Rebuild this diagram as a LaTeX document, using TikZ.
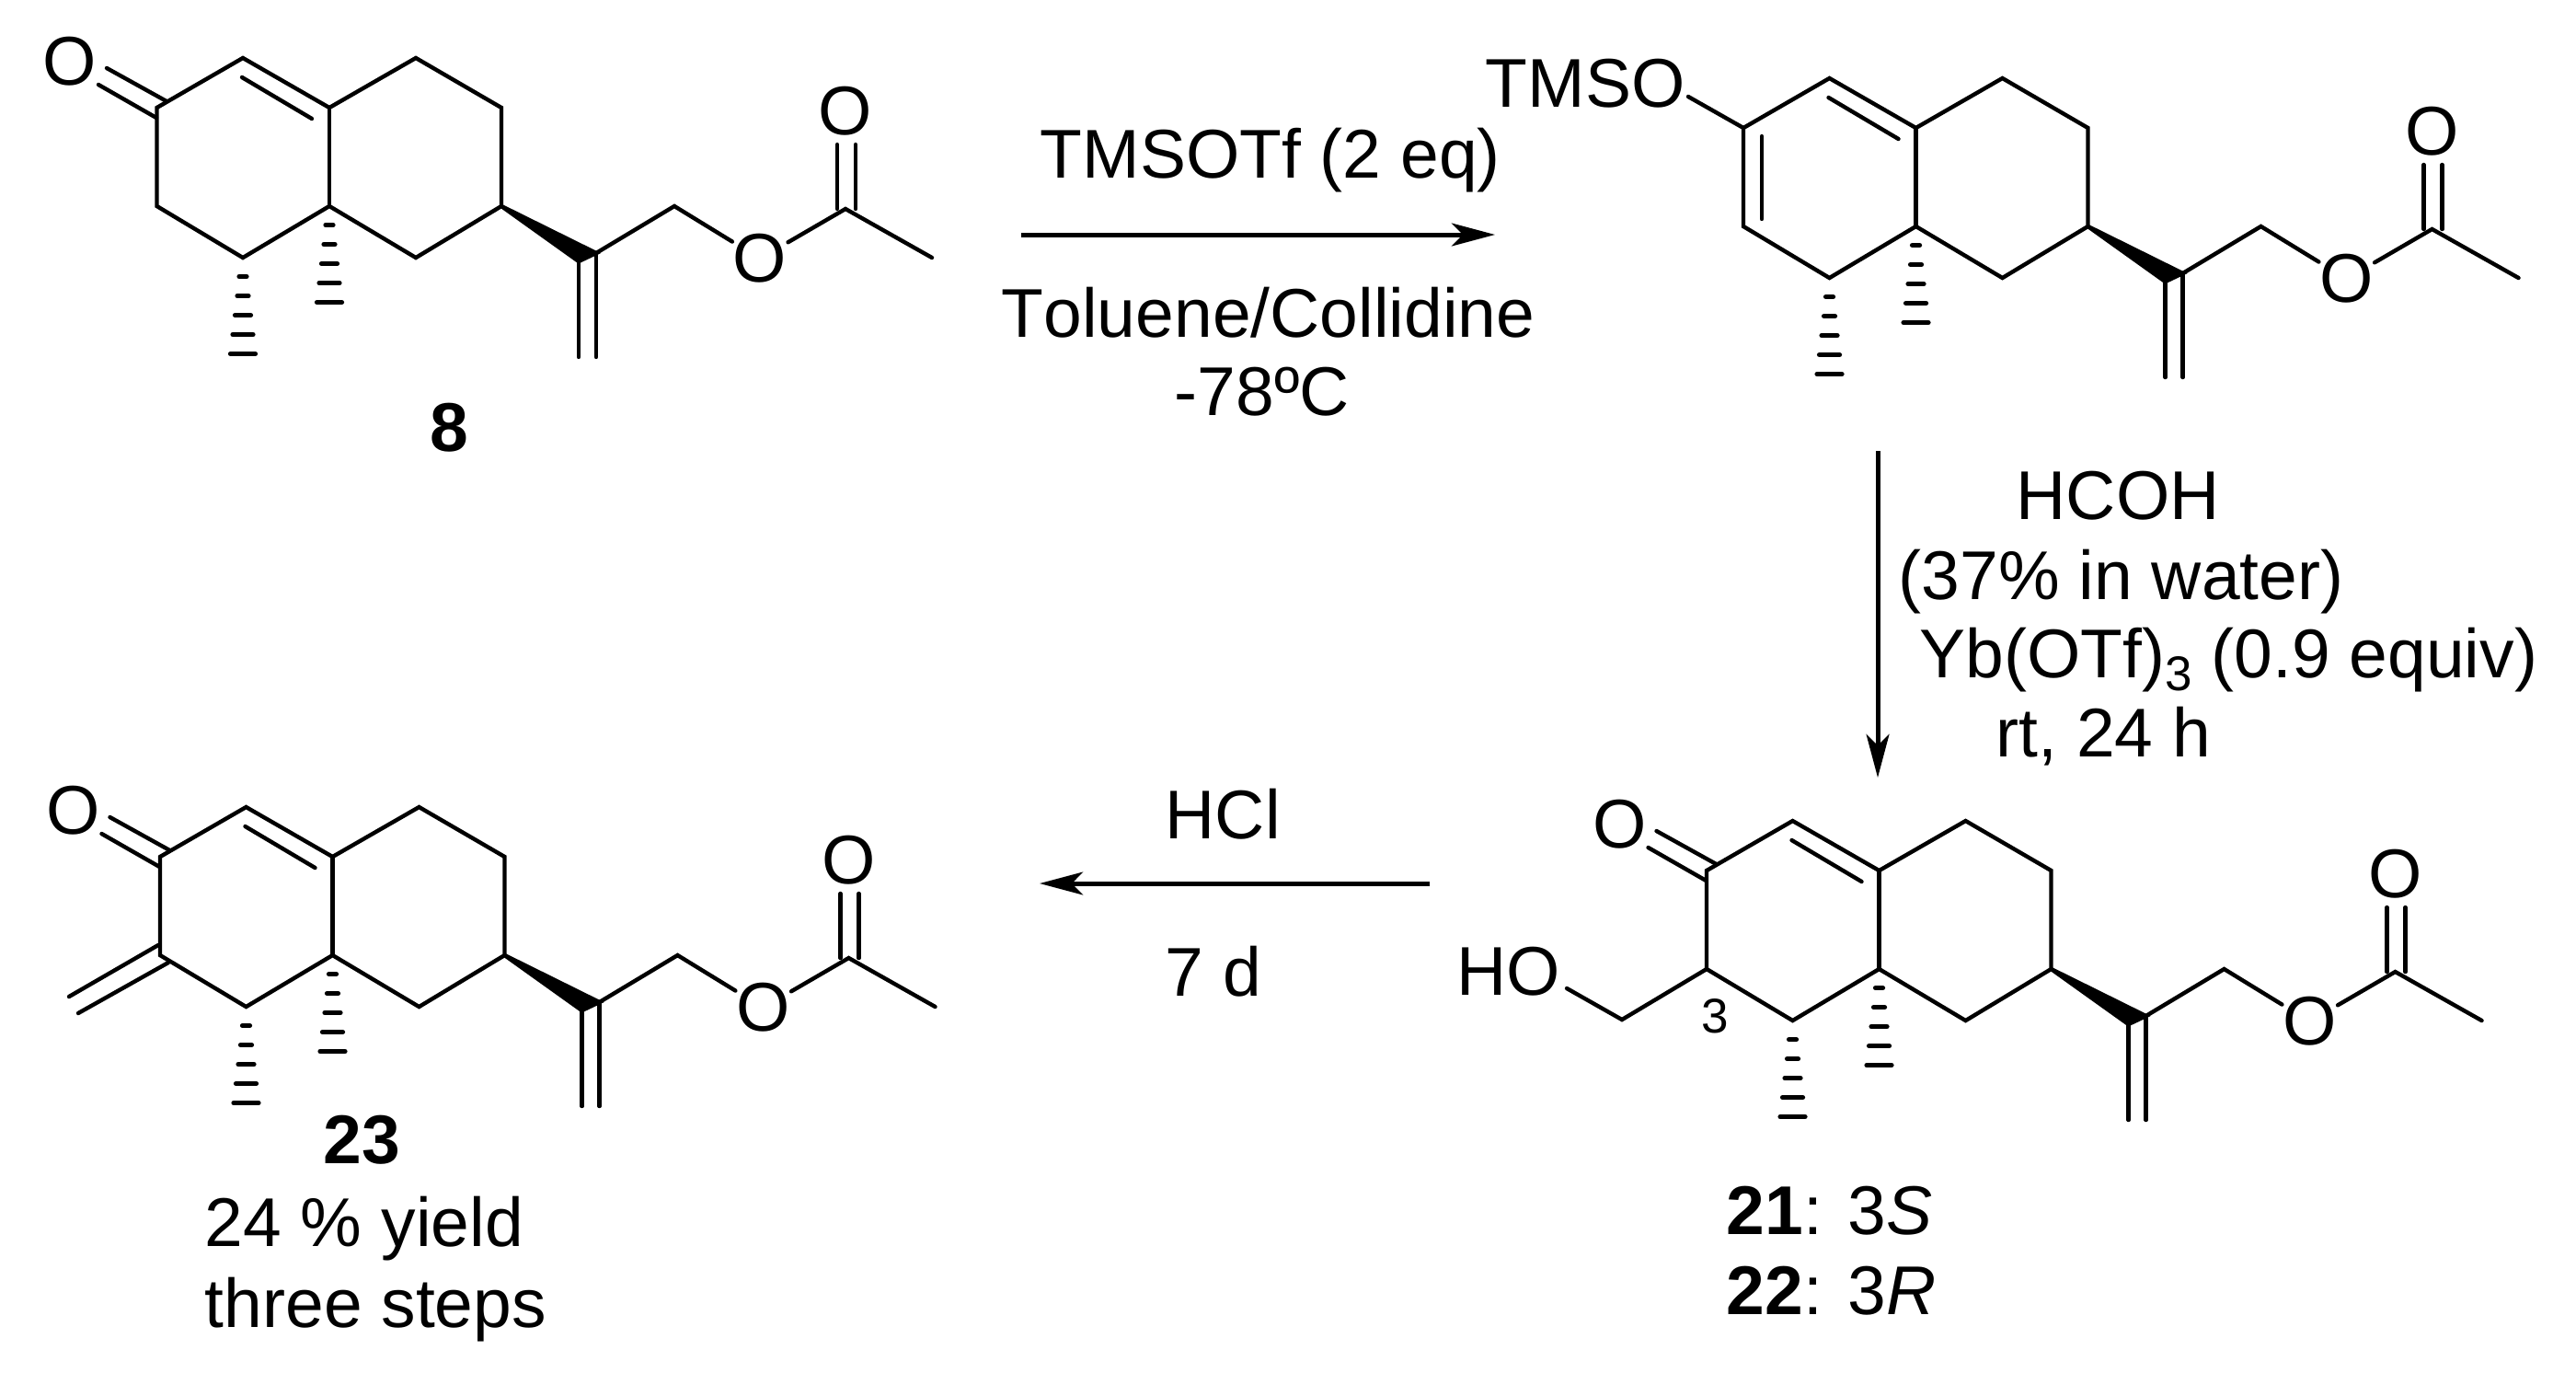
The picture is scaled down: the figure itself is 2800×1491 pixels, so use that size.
\documentclass[tikz,border=0pt]{standalone}
\usepackage{fontspec}
\setmainfont[Kerning=Off]{Liberation Sans}
\usetikzlibrary{arrows.meta}
\newcommand{\bigsize}{\fontsize{18.75pt}{22pt}\selectfont}
\newcommand{\smallsize}{\fontsize{13.25pt}{15pt}\selectfont}
\tikzset{
    %Define standard arrow tip
    >={Stealth[length=11.75pt,width=6.2pt,inset=3pt]},
    %Define style for bonds
    bond/.style={
	line width=1.1pt,
	line join=miter,
	line cap=round
    },
    hashbar/.style={
	line width=1.3pt,
	line cap=round
    },
    % Define arrow style
    pil/.style={
	->,
	line width=1.25pt
    },
    %Define style for texts
    atom/.style={
	circle,
	inner sep=-.85pt,
	font=\bigsize
    },
    lbl/.style={
	inner sep=0pt,
	anchor=base west,
	font=\bigsize
    },
    % five bars of a hashed methyl, widening downwards
    pics/hashed/.style={code={
	\foreach \k/\w in {0/4,1/6,2/8.5,3/11,4/13.5}
	\draw[hashbar] (-\w,{20.5+21*\k}) -- (\w,{20.5+21*\k});
    }},
    % what all four molecules have in common
    pics/skeleton/.style={code={
	\coordinate (-c1) at (264,63);
	\coordinate (-c2) at (170.5,117);
	\coordinate (-c3) at (170.5,224);
	\coordinate (-c4) at (264,280);
	\coordinate (-c4a) at (358,117);
	\coordinate (-c5) at (452,63);
	\coordinate (-c6) at (545,117);
	\coordinate (-c7) at (545,224);
	\coordinate (-c8) at (452,280);
	\coordinate (-c8a) at (358,224);
	\coordinate (-in1) at (263,84);
	\coordinate (-in2) at (339,129);
	\coordinate (-wa) at (629,284);
	\coordinate (-cs) at (648,275);
	\coordinate (-ene) at (629,388);
	\coordinate (-enf) at (648,388);
	\coordinate (-ch) at (733,224);
	\coordinate (-ac) at (919,227);
	\coordinate (-me) at (1013,280);
	\coordinate (-ka) at (910,227);
	\coordinate (-kb) at (930,227);
	\coordinate (-ta) at (910,157);
	\coordinate (-tb) at (930,157);
	\node[atom] (-oe) at (826,281) {O};
	\node[atom] (-oc) at (919,121) {O};
	\draw[bond] (-c3) -- (-c2) -- (-c1) -- (-c4a) -- (-c5) -- (-c6) -- (-c7)
	    -- (-c8) -- (-c8a) -- (-c4) -- cycle;
	\draw[bond] (-c4a) -- (-c8a);
	\draw[bond] (-in1) -- (-in2);
	\filldraw[bond] (-c7) -- (-wa) -- (-cs) -- cycle;
	\draw[bond] (-wa) -- (-ene);
	\draw[bond] (-cs) -- (-enf);
	\draw[bond] (-cs) -- (-ch) -- (-oe);
	\draw[bond] (-oe) -- (-ac) -- (-me);
	\draw[bond] (-ka) -- (-ta);
	\draw[bond] (-kb) -- (-tb);
	\pic at (-c4) {hashed};
	\pic at (-c8a) {hashed};
    }},
    % ring carbonyl
    pics/ketone/.style={code={
	\node[atom] (-o) at (76,67) {O};
	\coordinate (-oa) at (116,74);
	\coordinate (-ob) at (181,110);
	\coordinate (-oc) at (107,92);
	\coordinate (-od) at (170,128);
	\draw[bond] (-oa) -- (-ob);
	\draw[bond] (-oc) -- (-od);
    }}
}
\begin{document}
\begin{tikzpicture}[x=.25pt,y=-.25pt]
	\useasboundingbox (0,0) rectangle (2800,1491);
	% 8
	\pic (a) at (0,0) {skeleton};
	\pic (ak) at (0,0) {ketone};
	\node[lbl,font=\bigsize\bfseries] (eight) at (467,490) {8};
	% silyl enol ether
	\pic (b) at (1724.5,22) {skeleton};
	\node[lbl] (tmso) at (1614,116) {TMSO};
	\coordinate (tmsoend) at (1835,105);
	\coordinate (dia) at (1915,148);
	\coordinate (dib) at (1915,238);
	\draw[bond] (tmsoend) -- (b-c2);
	\draw[bond] (dia) -- (dib);
	% 21 and 22
	\pic (c) at (1684.5,829) {skeleton};
	\pic (ck) at (1684.5,829) {ketone};
	\node[lbl] (ho) at (1583,1081) {HO};
	\coordinate (hoch) at (1763,1108);
	\coordinate (hoend) at (1703,1074);
	\draw[bond] (hoend) -- (hoch) -- (c-c3);
	\node[lbl,font=\smallsize] (three) at (1849,1122) {3};
	\node[lbl] (ent1) at (1876,1341) {\textbf{21}: 3\textit{S}};
	\node[lbl] (ent2) at (1876,1428) {\textbf{22}: 3\textit{R}};
	% 23
	\pic (d) at (3.5,814) {skeleton};
	\pic (dk) at (3.5,814) {ketone};
	\coordinate (exa) at (75,1083);
	\coordinate (exb) at (172,1027);
	\coordinate (exc) at (85,1101);
	\coordinate (exd) at (183,1046);
	\draw[bond] (exa) -- (exb);
	\draw[bond] (exc) -- (exd);
	\node[lbl,font=\bigsize\bfseries] (prod) at (351,1264) {23};
	\node[lbl] (yield) at (222,1354) {24 \% yield};
	\node[lbl] (steps) at (222,1442) {three steps};
	% reactions
	\coordinate (s1) at (1110,255);
	\coordinate (e1) at (1625,255);
	\coordinate (s2) at (2041,490);
	\coordinate (e2) at (2041,845);
	\coordinate (s3) at (1554,960);
	\coordinate (e3) at (1130,960);
	\draw[pil] (s1) -- (e1);
	\draw[pil] (s2) -- (e2);
	\draw[pil] (s3) -- (e3);
	\node[lbl] (tmsotf) at (1130,193) {TMSOTf (2 eq)};
	\node[lbl] (tol) at (1088,366) {Toluene/Collidine};
	\node[lbl] (temp) at (1276,451) {-78ºC};
	\node[lbl] (hcoh) at (2191,564) {HCOH};
	\node[lbl] (water) at (2063,651) {(37\% in water)};
	\node[lbl] (yb) at (2086,736) {Yb(OTf)\raisebox{-3.5pt}{\smallsize 3} (0.9 equiv)};
	\node[lbl] (rt) at (2169,822) {rt, 24 h};
	\node[lbl] (hcl) at (1266,911) {HCl};
	\node[lbl] (days) at (1266,1082) {7 d};
\end{tikzpicture}
\end{document}
